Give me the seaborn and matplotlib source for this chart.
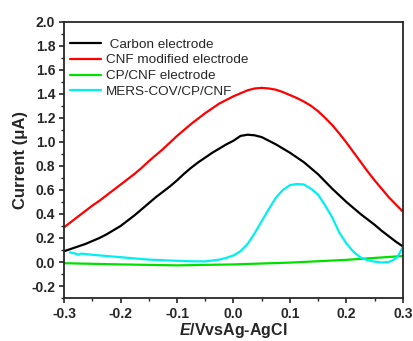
import numpy as np
import pandas as pd
import matplotlib
matplotlib.use("Agg")
import matplotlib.pyplot as plt
from matplotlib.ticker import MultipleLocator
import seaborn as sns

carbon_E = [-0.3, -0.2875, -0.275, -0.2625, -0.25, -0.2375, -0.225, -0.2125, -0.2, -0.1875,
            -0.175, -0.1625, -0.15, -0.1375, -0.125, -0.1125, -0.1, -0.0875, -0.075, -0.0625,
            -0.05, -0.0375, -0.025, -0.0125, 0.0, 0.0125, 0.025, 0.0375, 0.05, 0.0625,
            0.075, 0.0875, 0.1, 0.1125, 0.125, 0.1375, 0.15, 0.1625, 0.175, 0.1875,
            0.2, 0.2125, 0.225, 0.2375, 0.25, 0.2625, 0.275, 0.2875, 0.3]
carbon_I = [0.09, 0.11, 0.13, 0.15, 0.175, 0.20, 0.23, 0.265, 0.30, 0.345,
            0.39, 0.44, 0.49, 0.54, 0.585, 0.63, 0.68, 0.735, 0.785, 0.83,
            0.87, 0.91, 0.945, 0.98, 1.01, 1.05, 1.06, 1.055, 1.04, 1.01,
            0.98, 0.945, 0.91, 0.87, 0.83, 0.78, 0.73, 0.67, 0.61, 0.555,
            0.50, 0.45, 0.40, 0.355, 0.31, 0.26, 0.215, 0.17, 0.13]

cnf_E = carbon_E
cnf_I = [0.29, 0.335, 0.38, 0.425, 0.47, 0.51, 0.555, 0.60, 0.645, 0.69,
         0.735, 0.785, 0.84, 0.89, 0.94, 0.995, 1.05, 1.10, 1.15, 1.195,
         1.24, 1.28, 1.32, 1.35, 1.38, 1.405, 1.43, 1.445, 1.45, 1.445,
         1.435, 1.415, 1.39, 1.365, 1.335, 1.30, 1.255, 1.20, 1.14, 1.07,
         0.995, 0.915, 0.835, 0.755, 0.68, 0.61, 0.54, 0.48, 0.42]

cpcnf_E = [-0.3, -0.2, -0.1, 0.0, 0.1, 0.2, 0.3]
cpcnf_I = [-0.01, -0.02, -0.028, -0.02, -0.005, 0.018, 0.05]

mers_E = [-0.29, -0.28, -0.275, -0.27, -0.25, -0.225, -0.2, -0.175, -0.15, -0.125,
          -0.1, -0.075, -0.05, -0.025, -0.0125, 0.0, 0.0125, 0.025, 0.0375, 0.05,
          0.0625, 0.075, 0.0875, 0.1, 0.1125, 0.125, 0.1375, 0.15, 0.1625, 0.175,
          0.1875, 0.2, 0.2125, 0.225, 0.2375, 0.25, 0.2625, 0.275, 0.2825, 0.29,
          0.295, 0.3]
mers_I = [0.08, 0.07, 0.06, 0.07, 0.06, 0.05, 0.04, 0.03, 0.02, 0.015,
          0.01, 0.006, 0.005, 0.02, 0.035, 0.055, 0.09, 0.15, 0.24, 0.34,
          0.44, 0.535, 0.60, 0.64, 0.65, 0.645, 0.61, 0.56, 0.47, 0.37,
          0.245, 0.155, 0.085, 0.038, 0.015, 0.003, -0.004, 0.0, 0.015, 0.04,
          0.08, 0.125]

labels = [" Carbon electrode", "CNF modified electrode", "CP/CNF electrode", "MERS-COV/CP/CNF"]
colors = ["#000000", "#ff0000", "#00e000", "#00f0f0"]

sns.set_style("ticks")
plt.rcParams['font.family'] = ['Liberation Sans', 'DejaVu Sans']
plt.rcParams['mathtext.fontset'] = 'custom'
plt.rcParams['mathtext.rm'] = 'Liberation Sans:bold'
plt.rcParams['mathtext.it'] = 'Liberation Sans:italic:bold'
plt.rcParams['mathtext.bf'] = 'Liberation Sans:bold'

fig = plt.figure(figsize=(4.14, 3.41), dpi=100)
ax = fig.add_axes([0.155, 0.126, 0.818, 0.81])

series = [(carbon_E, carbon_I), (cnf_E, cnf_I), (cpcnf_E, cpcnf_I), (mers_E, mers_I)]
for (x, y), lab, c in zip(series, labels, colors):
    df = pd.DataFrame({"E": x, "I": y})
    sns.lineplot(data=df, x="E", y="I", ax=ax, color=c, label=lab, lw=1.6,
                 sort=False, estimator=None)

ax.set_xlim(-0.3, 0.3)
ax.set_ylim(-0.3, 2.0)
ax.xaxis.set_minor_locator(MultipleLocator(0.05))
ax.yaxis.set_minor_locator(MultipleLocator(0.1))
ax.set_yticks([-0.2, 0.0, 0.2, 0.4, 0.6, 0.8, 1.0, 1.2, 1.4, 1.6, 1.8, 2.0])
ax.set_yticklabels([f"{v:.1f}" for v in ax.get_yticks()])
ax.set_xticks([-0.3, -0.2, -0.1, 0.0, 0.1, 0.2, 0.3])
ax.set_xticklabels([f"{v:.1f}" for v in ax.get_xticks()])
ax.tick_params(which='major', direction='out', length=3.5, width=1.2, labelsize=10, pad=3)
ax.tick_params(which='minor', direction='out', length=2, width=1.0)
for lab in ax.get_xticklabels() + ax.get_yticklabels():
    lab.set_fontweight('bold')
for s in ax.spines.values():
    s.set_linewidth(1.3)
    s.set_visible(True)

ax.set_xlabel(r"$\mathit{E}$/VvsAg-AgCl", fontsize=11.5, fontweight='bold', labelpad=0)
ax.set_ylabel("Current (μA)", fontsize=12, fontweight='bold', labelpad=2)

ax.legend(loc='upper left', bbox_to_anchor=(0.0, 0.96), frameon=False,
          fontsize=9.7, handlelength=2.3, handletextpad=0.4, labelspacing=0.25,
          borderaxespad=0.2, borderpad=0.2)

fig.savefig("out.png", dpi=100)
